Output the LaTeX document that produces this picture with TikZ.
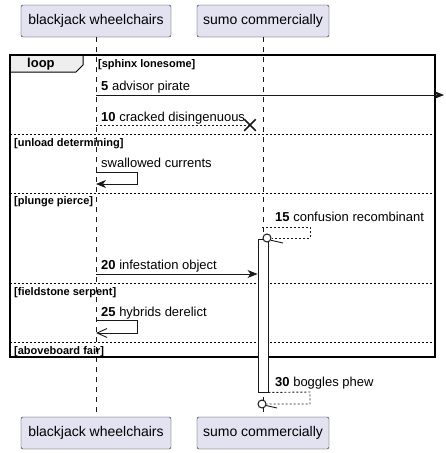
\documentclass[tikz,border=0pt]{standalone}
\usepackage{fontspec}
\setmainfont{Liberation Sans}
\usetikzlibrary{arrows.meta,positioning,shapes.misc}
\definecolor{partfill}{HTML}{E2E2F0}
\definecolor{ink}{HTML}{181818}
\definecolor{tabfill}{HTML}{EEEEEE}

\begin{document}
\begin{tikzpicture}[x=1pt,y=-1pt,>={Stealth[length=10pt,width=8pt,inset=3pt]},
  part/.style={draw=ink, rounded corners=2pt, fill=partfill, minimum height=32pt, inner sep=0pt, font=\fontsize{14}{16}\selectfont},
  life/.style={draw=ink, line width=0.5pt, dash pattern=on 5pt off 5pt},
  frame/.style={draw=black, line width=1.5pt},
  sep/.style={draw=black, line width=0.6pt, dash pattern=on 2pt off 2pt},
  msg/.style={draw=ink, line width=0.9pt},
  reply/.style={msg, dash pattern=on 2pt off 2pt},
  lbl/.style={anchor=base west, inner sep=0pt, font=\fontsize{13}{15}\selectfont},
  cond/.style={anchor=base west, inner sep=0pt, font=\fontsize{11}{13}\selectfont\bfseries},
  endcirc/.style={circle, draw=ink, fill=white, line width=1pt, minimum size=8pt, inner sep=0pt},
  open/.style={-{Straight Barb[length=10pt,width=9pt]}}]
  \useasboundingbox (0,0) rectangle (445,453);

  % participants
  \node (bwtop) [part, minimum width=150pt] at (96,21) {blackjack wheelchairs};
  \node (sctop) [part, minimum width=132pt] at (263,21) {sumo commercially};
  \node (bwbot) [part, minimum width=150pt] at (96,433) {blackjack wheelchairs};
  \node (scbot) [part, minimum width=132pt] at (263,433) {sumo commercially};
  \draw[life] (bwtop) -- (bwbot);
  \draw[life] (sctop) -- (scbot);

  % loop frame
  \draw[frame, line width=1pt, fill=tabfill] (10,55) -- (83,55) -- (83,65) -- (76,72) -- (10,72) -- cycle;
  \draw[frame] (10,55) rectangle (435,357);
  \node (looptag) [cond, font=\fontsize{13}{15}\selectfont\bfseries] at (27,67) {loop};
  \node (g1) [cond] at (98,67) {[sphinx lonesome]};
  \draw[sep] (10,134) -- (435,134);
  \node (g2) [cond] at (14,146) {[unload determining]};
  \draw[sep] (10,193) -- (435,193);
  \node (g3) [cond] at (14,204) {[plunge pierce]};
  \draw[sep] (10,283) -- (435,283);
  \node (g4) [cond] at (14,295) {[fieldstone serpent]};
  \draw[sep] (10,342) -- (435,342);
  \node (g5) [cond] at (14,354) {[aboveboard fair]};

  % activation
  \node (act) [draw=ink, fill=white, line width=0.9pt, minimum width=10pt, minimum height=153pt, inner sep=0pt] at (263,315.5) {};

  % messages
  \coordinate (a5) at (96,95);
  \coordinate (e5) at (444,95);
  \draw[msg,->] (a5) -- (e5);
  \node (m5) [lbl] at (101,90) {\textbf{5} advisor pirate};

  \coordinate (a10) at (96,125);
  \node (x10) [draw=ink, cross out, line width=1.5pt, minimum size=10pt, inner sep=0pt] at (250,125) {};
  \draw[reply] (a10) -- (x10.center);
  \node (m10) [lbl] at (101,121) {\textbf{10} cracked disingenuous};

  \coordinate (swout) at (96,172);
  \coordinate (swin) at (96,184);
  \draw[msg,->] (swout) -- ++(41,0) |- (swin);
  \node (msw) [lbl] at (101,167) {swallowed currents};

  \coordinate (b15) at (262,227);
  \node (c15) [endcirc] at (267,238) {};
  \draw[reply] (b15) -- ++(48,0) |- (c15);
  \draw[msg] (c15.-30) -- (283,243);
  \node (m15) [lbl] at (275,221) {\textbf{15} confusion recombinant};

  \coordinate (a20) at (96,274);
  \draw[msg,->] (a20) -- (act.west |- a20);
  \node (m20) [lbl] at (101,269) {\textbf{20} infestation object};

  \coordinate (hyout) at (96,320);
  \coordinate (hyin) at (96,333);
  \draw[msg,open] (hyout) -- ++(41,0) |- (hyin);
  \node (m25) [lbl] at (101,316) {\textbf{25} hybrids derelict};

  \node (c30) [endcirc] at (262,404) {};
  \draw[reply] (act.south east) -- (310,392) |- (c30);
  \draw[msg] (c30.-20) -- (277,408);
  \node (m30) [lbl] at (275,386) {\textbf{30} boggles phew};
\end{tikzpicture}
\end{document}
